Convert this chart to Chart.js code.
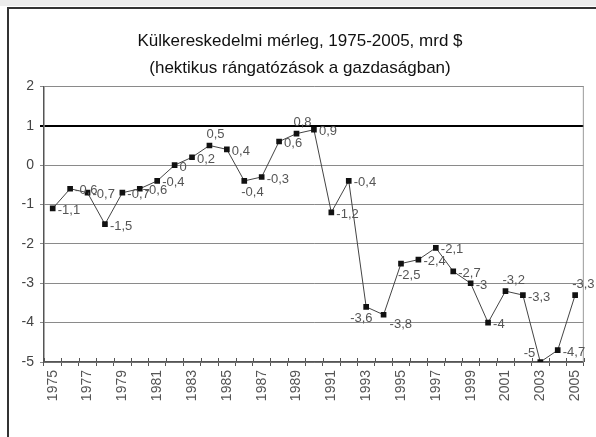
<!DOCTYPE html>
<html lang="hu">
  <head>
    <meta charset="UTF-8" />
    <title>Külkereskedelmi mérleg</title>
    <script src="https://cdn.jsdelivr.net/npm/chart.js"></script>
    <style>
      html, body { margin: 0; padding: 0; background: #fff; }
      #wrap { width: 596px; height: 437px; }
    </style>
  </head>
  <body>
    <div id="wrap"><canvas id="myChart" width="596" height="437"></canvas></div>
    <script>
      // évek és egyenleg (mrd $)
      const years = [];
      for (let y = 1975; y <= 2005; y++) years.push(String(y));
      const balance = [
        -1.1, -0.6, -0.7, -1.5, -0.7, -0.6, -0.4, 0, 0.2, 0.5,
        0.4, -0.4, -0.3, 0.6, 0.8, 0.9, -1.2, -0.4, -3.6, -3.8,
        -2.5, -2.4, -2.1, -2.7, -3, -4, -3.2, -3.3, -5, -4.7, -3.3,
      ];
      const yTicks = [2, 1, 0, -1, -2, -3, -4, -5];
      // címke helye a pont körül
      const labelPos = [
        "r", "r", "r", "r", "r", "r", "r", "r", "r", "a",
        "r", "b", "r", "r", "a", "r", "r", "r", "bl", "br",
        "b", "r", "r", "r", "r", "r", "a", "r", "l", "r", "a",
      ];

      const frame = {
        id: "frame",
        beforeDraw(chart) {
          const c = chart.ctx;
          c.save();
          c.fillStyle = "#fff";
          c.fillRect(0, 0, chart.width, chart.height);
          c.fillStyle = "#ececec";
          c.fillRect(0, 0, chart.width, 6);
          c.strokeStyle = "#333";
          c.lineWidth = 2;
          c.strokeRect(8, 8, chart.width + 20, chart.height + 20);
          c.restore();
        },
        beforeDatasetsDraw(chart) {
          const a = chart.chartArea;
          const c = chart.ctx;
          c.save();
          c.strokeStyle = "#999";
          c.lineWidth = 1;
          c.beginPath();
          c.moveTo(a.right - 0.5, a.top);
          c.lineTo(a.right - 0.5, a.bottom);
          c.stroke();
          // keresztező osztásjelek az x tengelyen
          c.strokeStyle = "#555";
          const xs = chart.scales.x;
          for (let i = 0; i <= years.length; i++) {
            const x = Math.round(xs.getPixelForValue(i - 0.5)) + 0.5;
            c.beginPath();
            c.moveTo(x, a.bottom - 4);
            c.lineTo(x, a.bottom);
            c.stroke();
          }
          c.restore();
        },
        afterDatasetsDraw(chart) {
          const c = chart.ctx;
          const pts = chart.getDatasetMeta(0).data;
          c.save();
          c.font = "13px 'Liberation Sans', Arial, sans-serif";
          c.fillStyle = "#555";
          pts.forEach((p, i) => {
            const txt = String(balance[i]).replace(".", ",");
            let x = p.x + 5, y = p.y + 2;
            c.textAlign = "left";
            c.textBaseline = "middle";
            const pos = labelPos[i];
            if (pos === "a") { x = p.x - 3; y = p.y - 11; }
            if (pos === "b") { x = p.x - 3; y = p.y + 12; }
            if (pos === "bl") { x = p.x - 16; y = p.y + 12; }
            if (pos === "br") { x = p.x + 6; y = p.y + 10; }
            if (pos === "l") { x = p.x - 5; y = p.y - 9; c.textAlign = "right"; }
            c.fillText(txt, x, y);
          });
          c.restore();
        },
      };

      const ctx = document.getElementById("myChart").getContext("2d");
      const myChart = new Chart(ctx, {
        type: "line",
        data: {
          labels: years,
          datasets: [
            {
              label: "mérleg",
              data: balance,
              borderColor: "#444",
              borderWidth: 1,
              pointStyle: "rect",
              pointRadius: 4,
              pointBackgroundColor: "#111",
              pointBorderColor: "#111",
              pointBorderWidth: 0,
              tension: 0,
            },
          ],
        },
        options: {
          responsive: false,
          animation: false,
          layout: { padding: { left: 8, right: 4, top: 28, bottom: 5 } },
          plugins: {
            legend: { display: false },
            tooltip: { enabled: false },
            title: {
              display: true,
              text: ["Külkereskedelmi mérleg, 1975-2005, mrd $", "(hektikus rángatózások a gazdaságban)"],
              color: "#111",
              font: { family: "'Liberation Sans', Arial, sans-serif", size: 17, weight: "normal", lineHeight: 1.6 },
              padding: { top: 0, bottom: 4 },
            },
          },
          scales: {
            x: {
              offset: true,
              grid: { offset: true, drawOnChartArea: false, tickLength: 4, color: "#555" },
              border: { color: "#555", width: 1.5 },
              ticks: {
                autoSkip: false,
                minRotation: 90,
                maxRotation: 90,
                padding: 4,
                color: "#555",
                font: { family: "'Liberation Sans', Arial, sans-serif", size: 14 },
                callback: (v, i) => (i % 2 === 0 ? years[i] : ""),
              },
              afterFit: (s) => { s.height = 70; },
            },
            y: {
              min: -5,
              max: 2,
              afterBuildTicks: (s) => { s.ticks = yTicks.map((v) => ({ value: v })); },
              grid: {
                color: (c) => (c.tick && c.tick.value === 1 ? "#000" : "#8a8a8a"),
                lineWidth: (c) => (c.tick && c.tick.value === 1 ? 2 : 1),
                tickLength: 4,
              },
              border: { color: "#555", width: 1.5 },
              ticks: {
                color: "#444",
                padding: 6,
                font: { family: "'Liberation Sans', Arial, sans-serif", size: 14 },
              },
              afterFit: (s) => { s.width = 36; },
            },
          },
        },
        plugins: [frame],
      });
    </script>
  </body>
</html>
